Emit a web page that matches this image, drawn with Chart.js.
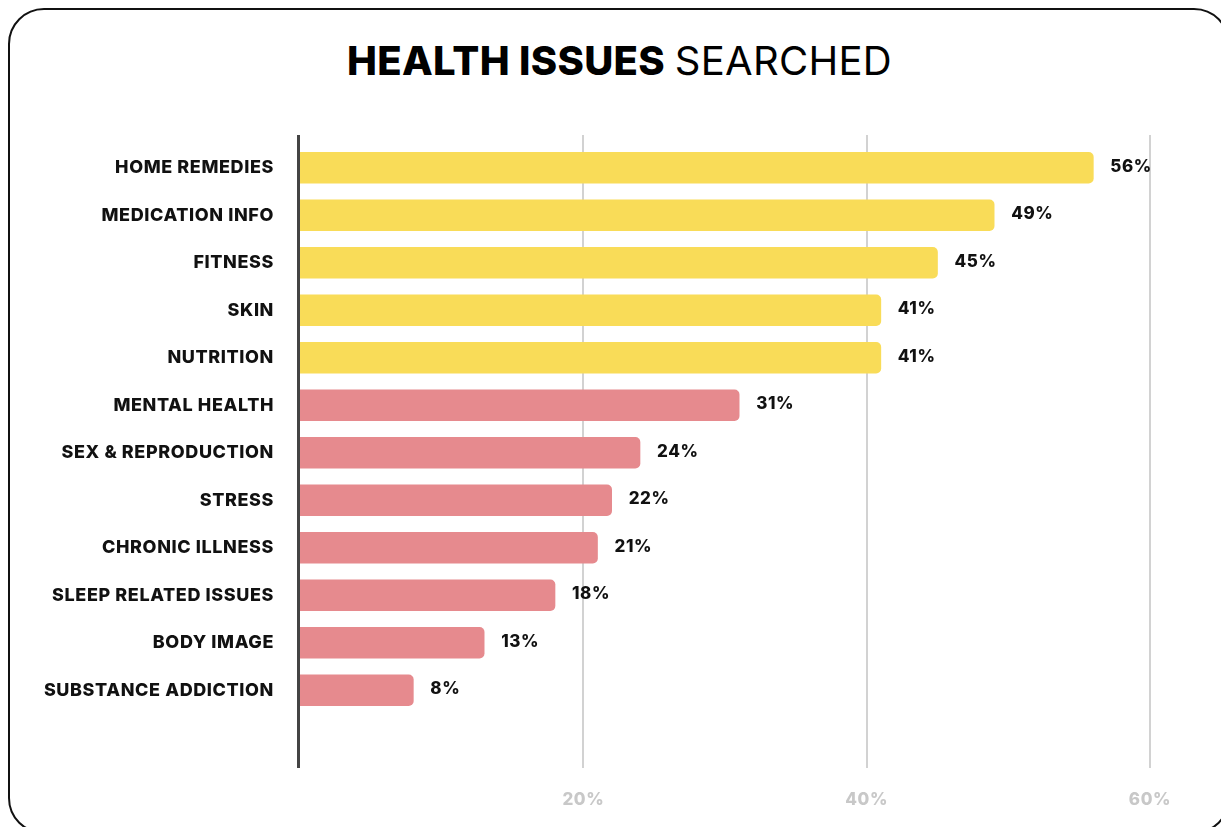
<!DOCTYPE html>
<html>
<head>
<meta charset="utf-8">
<script src="https://cdn.jsdelivr.net/npm/chart.js@4/dist/chart.umd.min.js"></script>
<style>
  html, body { margin: 0; padding: 0; background: #fff; width: 1221px; height: 827px; overflow: hidden; }
  #card { position: absolute; left: 8px; top: 8px; width: 1222px; height: 826px; border: 2px solid #111; border-radius: 36px; box-sizing: border-box; }
  #title { position: absolute; left: 0; width: 1221px; padding-left: 18px; box-sizing: border-box; top: 36px; text-align: center; font-family: "Inter", sans-serif; font-size: 40px; color: #000; letter-spacing: 0.3px; margin: 0; line-height: 50px; }
  #title b { font-weight: 800; }
  #title span { font-weight: 400; }
  #wrap { position: absolute; left: 0; top: 0; width: 1221px; height: 827px; }
</style>
</head>
<body>
<div id="card"></div>
<h1 id="title"><b>HEALTH ISSUES</b> <span>SEARCHED</span></h1>
<div id="wrap"><canvas id="c" width="1221" height="827"></canvas></div>
<script>
const categories = ["HOME REMEDIES", "MEDICATION INFO", "FITNESS", "SKIN", "NUTRITION", "MENTAL HEALTH", "SEX & REPRODUCTION", "STRESS", "CHRONIC ILLNESS", "SLEEP RELATED ISSUES", "BODY IMAGE", "SUBSTANCE ADDICTION"];
const values = [56, 49, 45, 41, 41, 31, 24, 22, 21, 18, 13, 8];
const groups = ["top", "top", "top", "top", "top", "other", "other", "other", "other", "other", "other", "other"];
const tickValues = [20, 40, 60];

const YELLOW = "#F9DC58";
const PINK = "#E68A8E";

const spacing = {
  id: "spacing",
  beforeDraw(chart) { chart.ctx.letterSpacing = "0.6px"; }
};

const guides = {
  id: "guides",
  beforeDatasetsDraw(chart) {
    const ctx = chart.ctx, xs = chart.scales.x;
    ctx.save();
    ctx.strokeStyle = "#d2d2d2";
    ctx.lineWidth = 2;
    tickValues.forEach(v => {
      const x = Math.round(xs.getPixelForValue(v));
      ctx.beginPath(); ctx.moveTo(x, 135); ctx.lineTo(x, 768); ctx.stroke();
    });
    const x0 = xs.getPixelForValue(0) - 1.5;
    ctx.strokeStyle = "#444";
    ctx.lineWidth = 3;
    ctx.beginPath(); ctx.moveTo(x0, 135); ctx.lineTo(x0, 768); ctx.stroke();
    ctx.restore();
  }
};

const valueLabels = {
  id: "valueLabels",
  afterDatasetsDraw(chart) {
    const ctx = chart.ctx;
    const meta = chart.getDatasetMeta(0);
    ctx.save();
    ctx.font = "800 17px Inter, sans-serif";
    ctx.fillStyle = "#111";
    ctx.textAlign = "left";
    ctx.textBaseline = "middle";
    meta.data.forEach((bar, i) => {
      ctx.fillText(values[i] + "%", bar.x + 17, bar.y - 1);
    });
    ctx.restore();
  }
};

new Chart(document.getElementById("c"), {
  type: "bar",
  data: {
    labels: categories,
    datasets: [{
      data: values,
      backgroundColor: groups.map(g => g === "top" ? YELLOW : PINK),
      borderRadius: 5,
      barThickness: 31
    }]
  },
  options: {
    indexAxis: "y",
    responsive: false,
    animation: false,
    layout: { padding: { top: 144, right: 71, left: 0, bottom: 0 } },
    plugins: { legend: { display: false }, tooltip: { enabled: false }, title: { display: false } },
    scales: {
      x: {
        min: 0, max: 60,
        grid: { display: false, drawTicks: false },
        border: { display: false },
        ticks: {
          stepSize: 20,
          padding: 76,
          color: "#c8c8c8",
          font: { family: "Inter", size: 17, weight: "800" },
          callback: v => v === 0 ? "" : v + "%"
        },
        afterFit(s) { s.height = 113; s.paddingLeft = 0; s.paddingRight = 0; }
      },
      y: {
        grid: { display: false, drawTicks: false },
        border: { display: false },
        ticks: {
          padding: 26,
          color: "#111",
          font: { family: "Inter", size: 18, weight: "800" }
        },
        afterFit(s) { s.width = 300; }
      }
    }
  },
  plugins: [spacing, guides, valueLabels]
});
</script>
</body>
</html>
